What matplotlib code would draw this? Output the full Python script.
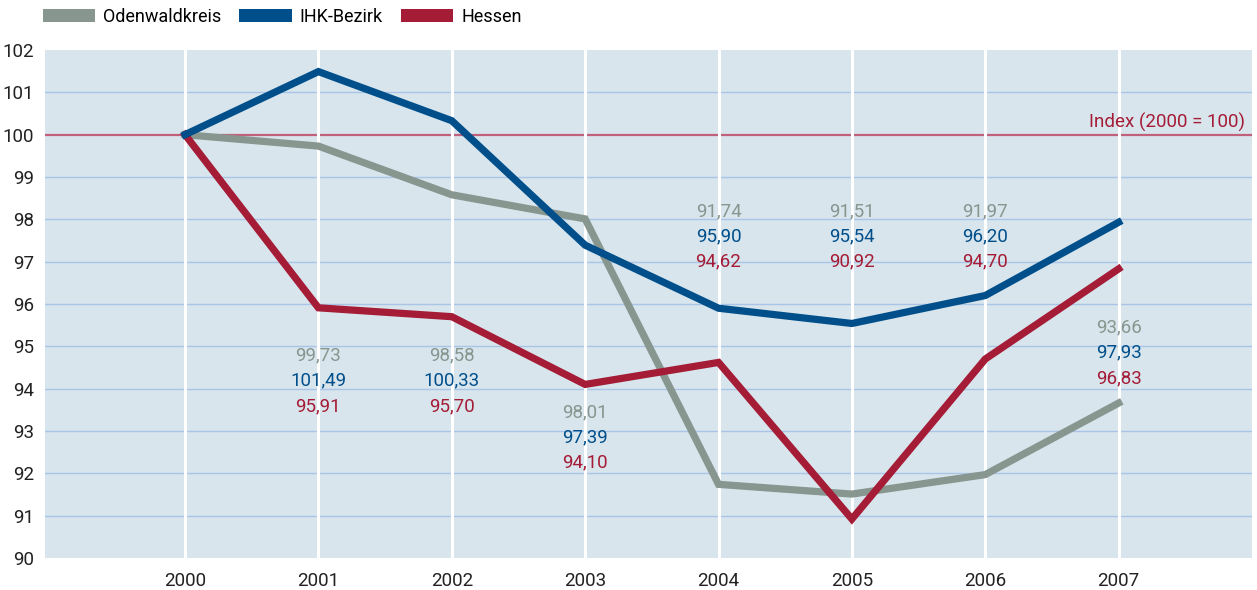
import matplotlib
matplotlib.use("Agg")
import matplotlib.pyplot as plt
from matplotlib.patches import Patch

years = [2000, 2001, 2002, 2003, 2004, 2005, 2006, 2007]
odenwald = [100.0, 99.73, 98.58, 98.01, 91.74, 91.51, 91.97, 93.66]
ihk = [100.0, 101.49, 100.33, 97.39, 95.90, 95.54, 96.20, 97.93]
hessen = [100.0, 95.91, 95.70, 94.10, 94.62, 90.92, 94.70, 96.83]
series_names = ["Odenwaldkreis", "IHK-Bezirk", "Hessen"]
yticks = list(range(90, 103))

c_gray = "#87968f"
c_blue = "#004f8b"
c_red = "#a51c36"
bg = "#d8e5ed"
grid_c = "#a9c4e6"

plt.rcParams["font.family"] = ["Roboto", "DejaVu Sans"]

fig = plt.figure(figsize=(12.57, 5.9), dpi=100)
ax = fig.add_axes([45/1257, 1-558/590, (1252-45)/1257, (558-50)/590])
ax.set_facecolor(bg)
ax.set_xlim(1998.95, 2008.0)
ax.set_ylim(90, 102)

for y in yticks:
    if y in (90, 102):
        continue
    if y == 100:
        ax.axhline(y, color="#c0607a", lw=1.6, zorder=1)
    else:
        ax.axhline(y, color=grid_c, lw=1.0, zorder=1)
for x in years:
    ax.axvline(x, color="white", lw=2.2, zorder=1.5)

ax.plot(years, odenwald, color=c_gray, lw=5.2, zorder=3, solid_joinstyle="miter")
ax.plot(years, ihk, color=c_blue, lw=5.2, zorder=4, solid_joinstyle="miter")
ax.plot(years, hessen, color=c_red, lw=5.2, zorder=3.5, solid_joinstyle="miter")

# value labels (top y position of the stack per year)
label_top = {2001: 94.79, 2002: 94.79, 2003: 93.45, 2004: 98.2, 2005: 98.2, 2006: 98.2, 2007: 95.45}
step = 0.6
fmt = lambda v: f"{v:.2f}".replace(".", ",")
for i, yr in enumerate(years):
    if yr not in label_top:
        continue
    yt = label_top[yr]
    for j, (vals, col) in enumerate([(odenwald, c_gray), (ihk, c_blue), (hessen, c_red)]):
        ax.text(yr, yt - j*step, fmt(vals[i]), color=col, fontsize=13.5,
                ha="center", va="center", zorder=5)

ax.text(2007.95, 100.3, "Index (2000 = 100)", color=c_red, fontsize=13.5,
        ha="right", va="center", zorder=5)

ax.set_xticks(years)
ax.set_xticklabels([str(y) for y in years])
ax.set_yticks(yticks)
ax.tick_params(axis="both", length=0, labelsize=13.5, colors="#222222")
ax.tick_params(axis="x", pad=10)
ax.tick_params(axis="y", pad=8)
for s in ax.spines.values():
    s.set_visible(False)

handles = [Patch(facecolor=c, edgecolor="none") for c in (c_gray, c_blue, c_red)]
fig.legend(handles, series_names, loc="upper left", bbox_to_anchor=(38/1257, 1 - 3/590),
           ncol=3, frameon=False, fontsize=13, handlelength=2.9, handleheight=0.75,
           handletextpad=0.45, columnspacing=1.0, borderaxespad=0.0, borderpad=0.25)

fig.savefig("out.png", dpi=100, facecolor="white")
